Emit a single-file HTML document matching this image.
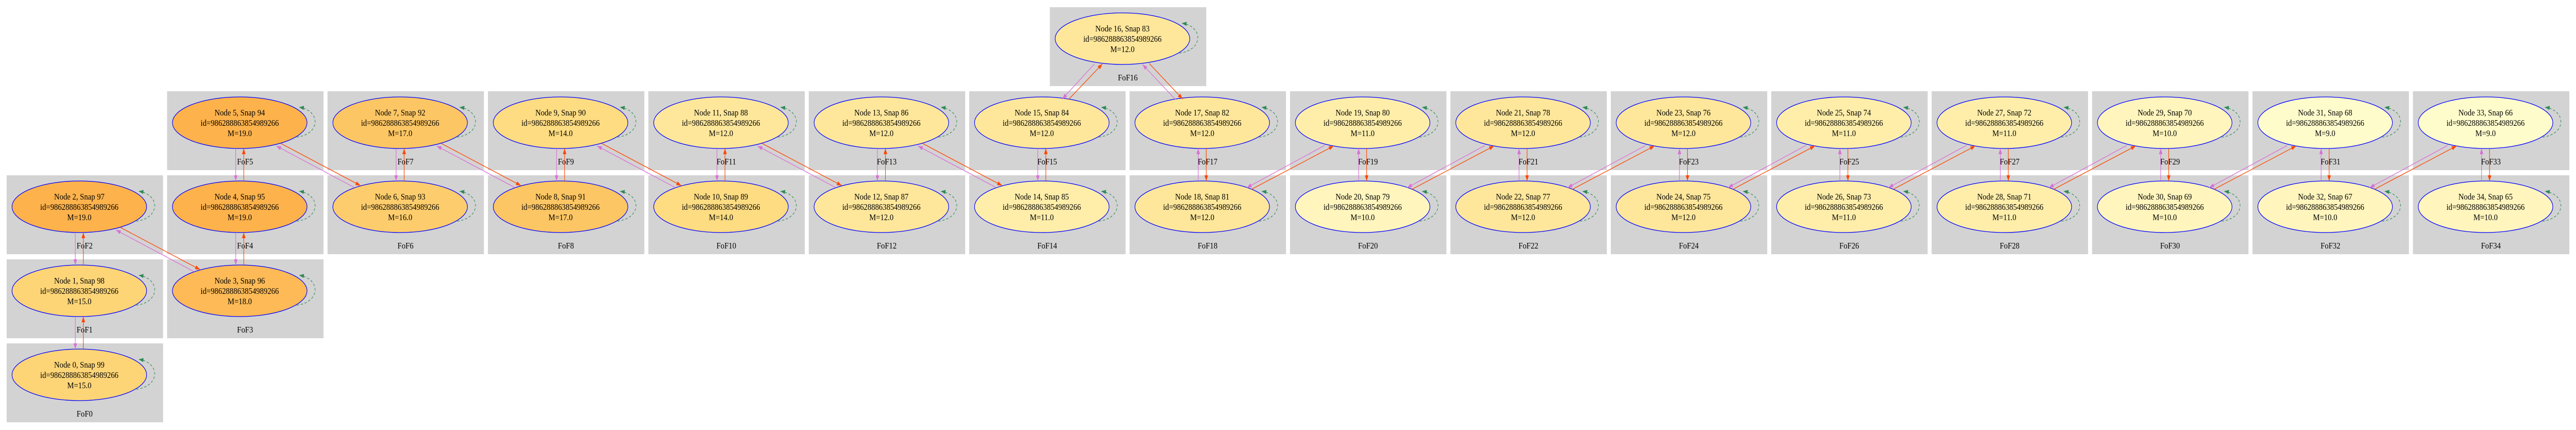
<!DOCTYPE html>
<html><head><meta charset="utf-8"><style>
html,body{margin:0;padding:0;background:#fff;width:100%;height:100%;overflow:hidden}
svg{display:block;width:100vw;height:100vh;position:absolute;left:0;top:0}
text{font-family:"Liberation Serif",serif;font-size:17px;text-anchor:middle;fill:#000}
.b{fill:#d3d3d3}
.e{stroke:#0000ff;stroke-width:1.3}
.l{fill:none;stroke:#2e8b57;stroke-width:1.2;stroke-dasharray:5,4}
.r{stroke:#ff4500;stroke-width:1.3;fill:none}
.v{stroke:#da70d6;stroke-width:1.3;fill:none}
</style></head><body>
<svg viewBox="0 0 5781 834" preserveAspectRatio="none" xmlns="http://www.w3.org/2000/svg">
<defs>
<marker id="mr" markerUnits="userSpaceOnUse" markerWidth="11" markerHeight="8" refX="11" refY="4" orient="auto"><path d="M0,0 L11,4 L0,8 z" fill="#ff4500"/></marker>
<marker id="mv" markerUnits="userSpaceOnUse" markerWidth="11" markerHeight="8" refX="11" refY="4" orient="auto"><path d="M0,0 L11,4 L0,8 z" fill="#da70d6"/></marker>
<marker id="mg" markerUnits="userSpaceOnUse" markerWidth="11" markerHeight="8" refX="11" refY="4" orient="auto"><path d="M0,0 L11,4 L0,8 z" fill="#2e8b57"/></marker>
</defs>

<g transform="translate(15,666)"><rect class="b" width="351" height="153"/><ellipse class="e" cx="163" cy="61" rx="151" ry="50" fill="#fdd577"/><path class="l" d="M291,89 C345,83 345,37 296,31" marker-end="url(#mg)"/><text x="163" y="47">Node 0, Snap 99</text><text x="163" y="67">id=986288863854989266</text><text x="163" y="87">M=15.0</text><text x="175" y="142">FoF0</text></g>
<g transform="translate(15,503)"><rect class="b" width="351" height="153"/><ellipse class="e" cx="163" cy="61" rx="151" ry="50" fill="#fdd577"/><path class="l" d="M291,89 C345,83 345,37 296,31" marker-end="url(#mg)"/><text x="163" y="47">Node 1, Snap 98</text><text x="163" y="67">id=986288863854989266</text><text x="163" y="87">M=15.0</text><text x="175" y="142">FoF1</text></g>
<g transform="translate(15,340)"><rect class="b" width="351" height="153"/><ellipse class="e" cx="163" cy="61" rx="151" ry="50" fill="#fdb24c"/><path class="l" d="M291,89 C345,83 345,37 296,31" marker-end="url(#mg)"/><text x="163" y="47">Node 2, Snap 97</text><text x="163" y="67">id=986288863854989266</text><text x="163" y="87">M=19.0</text><text x="175" y="142">FoF2</text></g>
<g transform="translate(375,503)"><rect class="b" width="351" height="153"/><ellipse class="e" cx="163" cy="61" rx="151" ry="50" fill="#fdba56"/><path class="l" d="M291,89 C345,83 345,37 296,31" marker-end="url(#mg)"/><text x="163" y="47">Node 3, Snap 96</text><text x="163" y="67">id=986288863854989266</text><text x="163" y="87">M=18.0</text><text x="175" y="142">FoF3</text></g>
<g transform="translate(375,340)"><rect class="b" width="351" height="153"/><ellipse class="e" cx="163" cy="61" rx="151" ry="50" fill="#fdb24c"/><path class="l" d="M291,89 C345,83 345,37 296,31" marker-end="url(#mg)"/><text x="163" y="47">Node 4, Snap 95</text><text x="163" y="67">id=986288863854989266</text><text x="163" y="87">M=19.0</text><text x="175" y="142">FoF4</text></g>
<g transform="translate(375,177)"><rect class="b" width="351" height="153"/><ellipse class="e" cx="163" cy="61" rx="151" ry="50" fill="#fdb24c"/><path class="l" d="M291,89 C345,83 345,37 296,31" marker-end="url(#mg)"/><text x="163" y="47">Node 5, Snap 94</text><text x="163" y="67">id=986288863854989266</text><text x="163" y="87">M=19.0</text><text x="175" y="142">FoF5</text></g>
<g transform="translate(735,340)"><rect class="b" width="351" height="153"/><ellipse class="e" cx="163" cy="61" rx="151" ry="50" fill="#fdcd6d"/><path class="l" d="M291,89 C345,83 345,37 296,31" marker-end="url(#mg)"/><text x="163" y="47">Node 6, Snap 93</text><text x="163" y="67">id=986288863854989266</text><text x="163" y="87">M=16.0</text><text x="175" y="142">FoF6</text></g>
<g transform="translate(735,177)"><rect class="b" width="351" height="153"/><ellipse class="e" cx="163" cy="61" rx="151" ry="50" fill="#fdc664"/><path class="l" d="M291,89 C345,83 345,37 296,31" marker-end="url(#mg)"/><text x="163" y="47">Node 7, Snap 92</text><text x="163" y="67">id=986288863854989266</text><text x="163" y="87">M=17.0</text><text x="175" y="142">FoF7</text></g>
<g transform="translate(1095,340)"><rect class="b" width="351" height="153"/><ellipse class="e" cx="163" cy="61" rx="151" ry="50" fill="#fdc664"/><path class="l" d="M291,89 C345,83 345,37 296,31" marker-end="url(#mg)"/><text x="163" y="47">Node 8, Snap 91</text><text x="163" y="67">id=986288863854989266</text><text x="163" y="87">M=17.0</text><text x="175" y="142">FoF8</text></g>
<g transform="translate(1095,177)"><rect class="b" width="351" height="153"/><ellipse class="e" cx="163" cy="61" rx="151" ry="50" fill="#fedc82"/><path class="l" d="M291,89 C345,83 345,37 296,31" marker-end="url(#mg)"/><text x="163" y="47">Node 9, Snap 90</text><text x="163" y="67">id=986288863854989266</text><text x="163" y="87">M=14.0</text><text x="175" y="142">FoF9</text></g>
<g transform="translate(1455,340)"><rect class="b" width="351" height="153"/><ellipse class="e" cx="163" cy="61" rx="151" ry="50" fill="#fedc82"/><path class="l" d="M291,89 C345,83 345,37 296,31" marker-end="url(#mg)"/><text x="163" y="47">Node 10, Snap 89</text><text x="163" y="67">id=986288863854989266</text><text x="163" y="87">M=14.0</text><text x="175" y="142">FoF10</text></g>
<g transform="translate(1455,177)"><rect class="b" width="351" height="153"/><ellipse class="e" cx="163" cy="61" rx="151" ry="50" fill="#fee79b"/><path class="l" d="M291,89 C345,83 345,37 296,31" marker-end="url(#mg)"/><text x="163" y="47">Node 11, Snap 88</text><text x="163" y="67">id=986288863854989266</text><text x="163" y="87">M=12.0</text><text x="175" y="142">FoF11</text></g>
<g transform="translate(1815,340)"><rect class="b" width="351" height="153"/><ellipse class="e" cx="163" cy="61" rx="151" ry="50" fill="#fee79b"/><path class="l" d="M291,89 C345,83 345,37 296,31" marker-end="url(#mg)"/><text x="163" y="47">Node 12, Snap 87</text><text x="163" y="67">id=986288863854989266</text><text x="163" y="87">M=12.0</text><text x="175" y="142">FoF12</text></g>
<g transform="translate(1815,177)"><rect class="b" width="351" height="153"/><ellipse class="e" cx="163" cy="61" rx="151" ry="50" fill="#fee79b"/><path class="l" d="M291,89 C345,83 345,37 296,31" marker-end="url(#mg)"/><text x="163" y="47">Node 13, Snap 86</text><text x="163" y="67">id=986288863854989266</text><text x="163" y="87">M=12.0</text><text x="175" y="142">FoF13</text></g>
<g transform="translate(2175,340)"><rect class="b" width="351" height="153"/><ellipse class="e" cx="163" cy="61" rx="151" ry="50" fill="#feeeaa"/><path class="l" d="M291,89 C345,83 345,37 296,31" marker-end="url(#mg)"/><text x="163" y="47">Node 14, Snap 85</text><text x="163" y="67">id=986288863854989266</text><text x="163" y="87">M=11.0</text><text x="175" y="142">FoF14</text></g>
<g transform="translate(2175,177)"><rect class="b" width="351" height="153"/><ellipse class="e" cx="163" cy="61" rx="151" ry="50" fill="#fee79b"/><path class="l" d="M291,89 C345,83 345,37 296,31" marker-end="url(#mg)"/><text x="163" y="47">Node 15, Snap 84</text><text x="163" y="67">id=986288863854989266</text><text x="163" y="87">M=12.0</text><text x="175" y="142">FoF15</text></g>
<g transform="translate(2356,14)"><rect class="b" width="351" height="153"/><ellipse class="e" cx="163" cy="61" rx="151" ry="50" fill="#fee79b"/><path class="l" d="M291,89 C345,83 345,37 296,31" marker-end="url(#mg)"/><text x="163" y="47">Node 16, Snap 83</text><text x="163" y="67">id=986288863854989266</text><text x="163" y="87">M=12.0</text><text x="175" y="142">FoF16</text></g>
<g transform="translate(2535,177)"><rect class="b" width="351" height="153"/><ellipse class="e" cx="163" cy="61" rx="151" ry="50" fill="#fee79b"/><path class="l" d="M291,89 C345,83 345,37 296,31" marker-end="url(#mg)"/><text x="163" y="47">Node 17, Snap 82</text><text x="163" y="67">id=986288863854989266</text><text x="163" y="87">M=12.0</text><text x="175" y="142">FoF17</text></g>
<g transform="translate(2535,340)"><rect class="b" width="351" height="153"/><ellipse class="e" cx="163" cy="61" rx="151" ry="50" fill="#fee79b"/><path class="l" d="M291,89 C345,83 345,37 296,31" marker-end="url(#mg)"/><text x="163" y="47">Node 18, Snap 81</text><text x="163" y="67">id=986288863854989266</text><text x="163" y="87">M=12.0</text><text x="175" y="142">FoF18</text></g>
<g transform="translate(2895,177)"><rect class="b" width="351" height="153"/><ellipse class="e" cx="163" cy="61" rx="151" ry="50" fill="#feeeaa"/><path class="l" d="M291,89 C345,83 345,37 296,31" marker-end="url(#mg)"/><text x="163" y="47">Node 19, Snap 80</text><text x="163" y="67">id=986288863854989266</text><text x="163" y="87">M=11.0</text><text x="175" y="142">FoF19</text></g>
<g transform="translate(2895,340)"><rect class="b" width="351" height="153"/><ellipse class="e" cx="163" cy="61" rx="151" ry="50" fill="#fff5bd"/><path class="l" d="M291,89 C345,83 345,37 296,31" marker-end="url(#mg)"/><text x="163" y="47">Node 20, Snap 79</text><text x="163" y="67">id=986288863854989266</text><text x="163" y="87">M=10.0</text><text x="175" y="142">FoF20</text></g>
<g transform="translate(3255,177)"><rect class="b" width="351" height="153"/><ellipse class="e" cx="163" cy="61" rx="151" ry="50" fill="#fee79b"/><path class="l" d="M291,89 C345,83 345,37 296,31" marker-end="url(#mg)"/><text x="163" y="47">Node 21, Snap 78</text><text x="163" y="67">id=986288863854989266</text><text x="163" y="87">M=12.0</text><text x="175" y="142">FoF21</text></g>
<g transform="translate(3255,340)"><rect class="b" width="351" height="153"/><ellipse class="e" cx="163" cy="61" rx="151" ry="50" fill="#fee79b"/><path class="l" d="M291,89 C345,83 345,37 296,31" marker-end="url(#mg)"/><text x="163" y="47">Node 22, Snap 77</text><text x="163" y="67">id=986288863854989266</text><text x="163" y="87">M=12.0</text><text x="175" y="142">FoF22</text></g>
<g transform="translate(3615,177)"><rect class="b" width="351" height="153"/><ellipse class="e" cx="163" cy="61" rx="151" ry="50" fill="#fee79b"/><path class="l" d="M291,89 C345,83 345,37 296,31" marker-end="url(#mg)"/><text x="163" y="47">Node 23, Snap 76</text><text x="163" y="67">id=986288863854989266</text><text x="163" y="87">M=12.0</text><text x="175" y="142">FoF23</text></g>
<g transform="translate(3615,340)"><rect class="b" width="351" height="153"/><ellipse class="e" cx="163" cy="61" rx="151" ry="50" fill="#fee79b"/><path class="l" d="M291,89 C345,83 345,37 296,31" marker-end="url(#mg)"/><text x="163" y="47">Node 24, Snap 75</text><text x="163" y="67">id=986288863854989266</text><text x="163" y="87">M=12.0</text><text x="175" y="142">FoF24</text></g>
<g transform="translate(3975,177)"><rect class="b" width="351" height="153"/><ellipse class="e" cx="163" cy="61" rx="151" ry="50" fill="#feeeaa"/><path class="l" d="M291,89 C345,83 345,37 296,31" marker-end="url(#mg)"/><text x="163" y="47">Node 25, Snap 74</text><text x="163" y="67">id=986288863854989266</text><text x="163" y="87">M=11.0</text><text x="175" y="142">FoF25</text></g>
<g transform="translate(3975,340)"><rect class="b" width="351" height="153"/><ellipse class="e" cx="163" cy="61" rx="151" ry="50" fill="#feeeaa"/><path class="l" d="M291,89 C345,83 345,37 296,31" marker-end="url(#mg)"/><text x="163" y="47">Node 26, Snap 73</text><text x="163" y="67">id=986288863854989266</text><text x="163" y="87">M=11.0</text><text x="175" y="142">FoF26</text></g>
<g transform="translate(4335,177)"><rect class="b" width="351" height="153"/><ellipse class="e" cx="163" cy="61" rx="151" ry="50" fill="#feeeaa"/><path class="l" d="M291,89 C345,83 345,37 296,31" marker-end="url(#mg)"/><text x="163" y="47">Node 27, Snap 72</text><text x="163" y="67">id=986288863854989266</text><text x="163" y="87">M=11.0</text><text x="175" y="142">FoF27</text></g>
<g transform="translate(4335,340)"><rect class="b" width="351" height="153"/><ellipse class="e" cx="163" cy="61" rx="151" ry="50" fill="#feeeaa"/><path class="l" d="M291,89 C345,83 345,37 296,31" marker-end="url(#mg)"/><text x="163" y="47">Node 28, Snap 71</text><text x="163" y="67">id=986288863854989266</text><text x="163" y="87">M=11.0</text><text x="175" y="142">FoF28</text></g>
<g transform="translate(4695,177)"><rect class="b" width="351" height="153"/><ellipse class="e" cx="163" cy="61" rx="151" ry="50" fill="#fff5bd"/><path class="l" d="M291,89 C345,83 345,37 296,31" marker-end="url(#mg)"/><text x="163" y="47">Node 29, Snap 70</text><text x="163" y="67">id=986288863854989266</text><text x="163" y="87">M=10.0</text><text x="175" y="142">FoF29</text></g>
<g transform="translate(4695,340)"><rect class="b" width="351" height="153"/><ellipse class="e" cx="163" cy="61" rx="151" ry="50" fill="#fff5bd"/><path class="l" d="M291,89 C345,83 345,37 296,31" marker-end="url(#mg)"/><text x="163" y="47">Node 30, Snap 69</text><text x="163" y="67">id=986288863854989266</text><text x="163" y="87">M=10.0</text><text x="175" y="142">FoF30</text></g>
<g transform="translate(5055,177)"><rect class="b" width="351" height="153"/><ellipse class="e" cx="163" cy="61" rx="151" ry="50" fill="#fffccc"/><path class="l" d="M291,89 C345,83 345,37 296,31" marker-end="url(#mg)"/><text x="163" y="47">Node 31, Snap 68</text><text x="163" y="67">id=986288863854989266</text><text x="163" y="87">M=9.0</text><text x="175" y="142">FoF31</text></g>
<g transform="translate(5055,340)"><rect class="b" width="351" height="153"/><ellipse class="e" cx="163" cy="61" rx="151" ry="50" fill="#fff5bd"/><path class="l" d="M291,89 C345,83 345,37 296,31" marker-end="url(#mg)"/><text x="163" y="47">Node 32, Snap 67</text><text x="163" y="67">id=986288863854989266</text><text x="163" y="87">M=10.0</text><text x="175" y="142">FoF32</text></g>
<g transform="translate(5415,177)"><rect class="b" width="351" height="153"/><ellipse class="e" cx="163" cy="61" rx="151" ry="50" fill="#fffccc"/><path class="l" d="M291,89 C345,83 345,37 296,31" marker-end="url(#mg)"/><text x="163" y="47">Node 33, Snap 66</text><text x="163" y="67">id=986288863854989266</text><text x="163" y="87">M=9.0</text><text x="175" y="142">FoF33</text></g>
<g transform="translate(5415,340)"><rect class="b" width="351" height="153"/><ellipse class="e" cx="163" cy="61" rx="151" ry="50" fill="#fff5bd"/><path class="l" d="M291,89 C345,83 345,37 296,31" marker-end="url(#mg)"/><text x="163" y="47">Node 34, Snap 65</text><text x="163" y="67">id=986288863854989266</text><text x="163" y="87">M=10.0</text><text x="175" y="142">FoF34</text></g>

<g>
<line class="v" x1="169" y1="451" x2="169" y2="514" marker-end="url(#mv)"/><line class="r" x1="187" y1="514" x2="187" y2="451" marker-end="url(#mr)"/>
<line class="v" x1="169" y1="614" x2="169" y2="677" marker-end="url(#mv)"/><line class="r" x1="187" y1="677" x2="187" y2="614" marker-end="url(#mr)"/>
<line class="v" x1="529" y1="288" x2="529" y2="351" marker-end="url(#mv)"/><line class="r" x1="547" y1="351" x2="547" y2="288" marker-end="url(#mr)"/>
<line class="v" x1="529" y1="451" x2="529" y2="514" marker-end="url(#mv)"/><line class="r" x1="547" y1="514" x2="547" y2="451" marker-end="url(#mr)"/>
<line class="v" x1="889" y1="288" x2="889" y2="351" marker-end="url(#mv)"/><line class="r" x1="907" y1="351" x2="907" y2="288" marker-end="url(#mr)"/>
<line class="v" x1="1249" y1="288" x2="1249" y2="351" marker-end="url(#mv)"/><line class="r" x1="1267" y1="351" x2="1267" y2="288" marker-end="url(#mr)"/>
<line class="v" x1="1609" y1="288" x2="1609" y2="351" marker-end="url(#mv)"/><line class="r" x1="1627" y1="351" x2="1627" y2="288" marker-end="url(#mr)"/>
<line class="v" x1="1969" y1="288" x2="1969" y2="351" marker-end="url(#mv)"/><line class="r" x1="1987" y1="351" x2="1987" y2="288" marker-end="url(#mr)"/>
<line class="v" x1="2329" y1="288" x2="2329" y2="351" marker-end="url(#mv)"/><line class="r" x1="2347" y1="351" x2="2347" y2="288" marker-end="url(#mr)"/>
</g>
<g>
<line class="v" x1="2689" y1="351" x2="2689" y2="288" marker-end="url(#mv)"/><line class="r" x1="2707" y1="288" x2="2707" y2="351" marker-end="url(#mr)"/>
<line class="v" x1="3049" y1="351" x2="3049" y2="288" marker-end="url(#mv)"/><line class="r" x1="3067" y1="288" x2="3067" y2="351" marker-end="url(#mr)"/>
<line class="v" x1="3409" y1="351" x2="3409" y2="288" marker-end="url(#mv)"/><line class="r" x1="3427" y1="288" x2="3427" y2="351" marker-end="url(#mr)"/>
<line class="v" x1="3769" y1="351" x2="3769" y2="288" marker-end="url(#mv)"/><line class="r" x1="3787" y1="288" x2="3787" y2="351" marker-end="url(#mr)"/>
<line class="v" x1="4129" y1="351" x2="4129" y2="288" marker-end="url(#mv)"/><line class="r" x1="4147" y1="288" x2="4147" y2="351" marker-end="url(#mr)"/>
<line class="v" x1="4489" y1="351" x2="4489" y2="288" marker-end="url(#mv)"/><line class="r" x1="4507" y1="288" x2="4507" y2="351" marker-end="url(#mr)"/>
<line class="v" x1="4849" y1="351" x2="4849" y2="288" marker-end="url(#mv)"/><line class="r" x1="4867" y1="288" x2="4867" y2="351" marker-end="url(#mr)"/>
<line class="v" x1="5209" y1="351" x2="5209" y2="288" marker-end="url(#mv)"/><line class="r" x1="5227" y1="288" x2="5227" y2="351" marker-end="url(#mr)"/>
<line class="v" x1="5569" y1="351" x2="5569" y2="288" marker-end="url(#mv)"/><line class="r" x1="5587" y1="288" x2="5587" y2="351" marker-end="url(#mr)"/>
</g>
<g>
<line class="r" x1="270" y1="441" x2="449" y2="523" marker-end="url(#mr)"/><line class="v" x1="436" y1="527" x2="260" y2="446" marker-end="url(#mv)"/>
<line class="r" x1="630" y1="278" x2="809" y2="360" marker-end="url(#mr)"/><line class="v" x1="796" y1="364" x2="620" y2="283" marker-end="url(#mv)"/>
<line class="r" x1="990" y1="278" x2="1169" y2="360" marker-end="url(#mr)"/><line class="v" x1="1156" y1="364" x2="980" y2="283" marker-end="url(#mv)"/>
<line class="r" x1="1350" y1="278" x2="1529" y2="360" marker-end="url(#mr)"/><line class="v" x1="1516" y1="364" x2="1340" y2="283" marker-end="url(#mv)"/>
<line class="r" x1="1710" y1="278" x2="1889" y2="360" marker-end="url(#mr)"/><line class="v" x1="1876" y1="364" x2="1700" y2="283" marker-end="url(#mv)"/>
<line class="r" x1="2070" y1="278" x2="2249" y2="360" marker-end="url(#mr)"/><line class="v" x1="2236" y1="364" x2="2060" y2="283" marker-end="url(#mv)"/>
<line class="r" x1="2398" y1="193" x2="2474" y2="124" marker-end="url(#mr)"/><line class="v" x1="2456" y1="124" x2="2384" y2="192" marker-end="url(#mv)"/>
<line class="r" x1="2579" y1="123" x2="2654" y2="192" marker-end="url(#mr)"/><line class="v" x1="2638" y1="193" x2="2564" y2="125" marker-end="url(#mv)"/>
</g>
<g>
<line class="r" x1="2809" y1="367" x2="2993" y2="283" marker-end="url(#mr)"/><line class="v" x1="2973" y1="282" x2="2798" y2="364" marker-end="url(#mv)"/>
<line class="r" x1="3169" y1="367" x2="3353" y2="283" marker-end="url(#mr)"/><line class="v" x1="3333" y1="282" x2="3158" y2="364" marker-end="url(#mv)"/>
<line class="r" x1="3529" y1="367" x2="3713" y2="283" marker-end="url(#mr)"/><line class="v" x1="3693" y1="282" x2="3518" y2="364" marker-end="url(#mv)"/>
<line class="r" x1="3889" y1="367" x2="4073" y2="283" marker-end="url(#mr)"/><line class="v" x1="4053" y1="282" x2="3878" y2="364" marker-end="url(#mv)"/>
<line class="r" x1="4249" y1="367" x2="4433" y2="283" marker-end="url(#mr)"/><line class="v" x1="4413" y1="282" x2="4238" y2="364" marker-end="url(#mv)"/>
<line class="r" x1="4609" y1="367" x2="4793" y2="283" marker-end="url(#mr)"/><line class="v" x1="4773" y1="282" x2="4598" y2="364" marker-end="url(#mv)"/>
<line class="r" x1="4969" y1="367" x2="5153" y2="283" marker-end="url(#mr)"/><line class="v" x1="5133" y1="282" x2="4958" y2="364" marker-end="url(#mv)"/>
<line class="r" x1="5329" y1="367" x2="5513" y2="283" marker-end="url(#mr)"/><line class="v" x1="5493" y1="282" x2="5318" y2="364" marker-end="url(#mv)"/>
</g>
</svg>
</body></html>
